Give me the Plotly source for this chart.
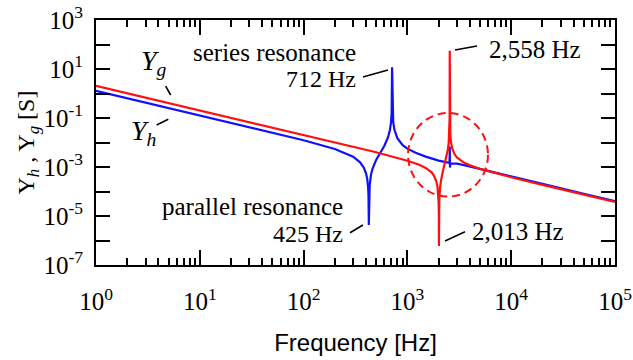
import plotly.graph_objects as go

# ---- data ----
freq_h = [1, 10, 100, 200, 300, 350, 380, 400, 410, 418, 422, 425, 428, 433, 445, 460,
          500, 550, 600, 650, 680, 695, 705, 712, 719, 730, 750, 800, 900, 1000, 1200,
          1500, 2000, 2400, 2540, 2552, 2558, 2564, 2572, 2585, 2650, 3000, 3600, 5000,
          7000, 10000, 20000, 50000, 100000]
y_h = [1.29, 0.129, 1.24e-2, 5.45e-3, 2.62e-3, 1.56e-3, 9.5e-4, 5.4e-4, 3.3e-4, 1.55e-4,
       6.6e-5, 4.3e-6, 6.7e-5, 1.8e-4, 4.6e-4, 8.2e-4, 1.95e-3, 3.9e-3, 7.4e-3, 1.6e-2,
       3.4e-2, 6.6e-2, 0.16, 11.7, 0.17, 6.7e-2, 3.3e-2, 1.5e-2, 7.8e-3, 5.6e-3, 3.8e-3,
       2.65e-3, 1.82e-3, 1.5e-3, 1.47e-3, 2.4e-3, 6.8e-3, 1.3e-3, 9.5e-4, 1.25e-3, 1.38e-3,
       1.38e-3, 1.17e-3, 8.3e-4, 5.9e-4, 4.2e-4, 2.05e-4, 8.1e-5, 4.0e-5]

freq_g = [1, 10, 100, 500, 1000, 1300, 1500, 1700, 1800, 1900, 1950, 1980, 2000, 2008,
          2013, 2018, 2030, 2060, 2100, 2200, 2300, 2400, 2450, 2500, 2530, 2545, 2552,
          2558, 2564, 2570, 2590, 2620, 2700, 2850, 3000, 3500, 4000, 5000, 7000, 10000,
          20000, 50000, 100000]
y_g = [2.04, 0.204, 2.04e-2, 3.98e-3, 1.81e-3, 1.23e-3, 9.2e-4, 6.2e-4, 4.5e-4, 2.6e-4,
       1.54e-4, 8.4e-5, 3.4e-5, 1.3e-5, 6.0e-7, 1.3e-5, 4.6e-5, 1.33e-4, 2.6e-4, 6.9e-4,
       1.41e-3, 3.0e-3, 4.9e-3, 9.9e-3, 2.15e-2, 4.7e-2, 0.104, 56, 0.108, 5.5e-2, 2.15e-2,
       1.17e-2, 5.7e-3, 3.3e-3, 2.45e-3, 1.52e-3, 1.17e-3, 8.4e-4, 5.6e-4, 3.8e-4, 1.87e-4,
       7.5e-5, 3.75e-5]

x_tick_vals = [1, 10, 100, 1000, 10000, 100000]
x_tick_text = ["10<sup>0</sup>", "10<sup>1</sup>", "10<sup>2</sup>", "10<sup>3</sup>",
               "10<sup>4</sup>", "10<sup>5</sup>"]
y_tick_vals = [1e-7, 1e-6, 1e-5, 1e-4, 1e-3, 1e-2, 1e-1, 1, 10, 100, 1000]
y_tick_text = ["10<sup>-7</sup>", "", "10<sup>-5</sup>", "", "10<sup>-3</sup>", "",
               "10<sup>-1</sup>", "", "10<sup>1</sup>", "", "10<sup>3</sup>"]

series_res_hz = 712
series_res_g_hz = 2558
parallel_res_hz = 425
parallel_res_g_hz = 2013

SERIF = "Liberation Serif, Times New Roman, serif"
SANS = "Liberation Sans, Arial, sans-serif"

fig = go.Figure()
fig.add_trace(go.Scatter(x=freq_h, y=y_h, mode="lines",
                         line=dict(color="#1010ff", width=2.2), hoverinfo="skip"))
fig.add_trace(go.Scatter(x=freq_g, y=y_g, mode="lines",
                         line=dict(color="#ff1010", width=2.2), hoverinfo="skip"))

minor_vals = [m * 10 ** d for d in range(0, 5) for m in range(2, 10)]

fig.update_xaxes(type="log", range=[0, 5], automargin=False, showline=True,
                 linecolor="black", linewidth=2,
                 mirror="ticks", ticks="inside", ticklen=15, tickwidth=2, tickcolor="black",
                 tickmode="array", tickvals=x_tick_vals, ticktext=x_tick_text,
                 tickfont=dict(family=SERIF, size=25, color="black"),
                 ticklabelstandoff=13,
                 minor=dict(ticks="inside", ticklen=7, tickwidth=1.5, tickcolor="black",
                            tickmode="array", tickvals=minor_vals, showgrid=False),
                 showgrid=False, zeroline=False,
                 title=dict(text="Frequency [Hz]", font=dict(family=SANS, size=24, color="black"),
                            standoff=20))
fig.update_yaxes(type="log", range=[-7, 3], automargin=False, showline=True,
                 linecolor="black", linewidth=2,
                 mirror="ticks", ticks="inside", ticklen=14, tickwidth=2, tickcolor="black",
                 tickmode="array", tickvals=y_tick_vals, ticktext=y_tick_text,
                 tickfont=dict(family=SERIF, size=25, color="black"),
                 ticklabelstandoff=6,
                 showgrid=False, zeroline=False,
                 title=dict(text="Y<sub><i>h</i></sub> , Y<sub><i>g</i></sub> [S]",
                            font=dict(family=SERIF, size=24, color="black"), standoff=1))

# dashed circle around the Yg resonance pair
fig.add_shape(type="circle", xref="x", yref="y", x0=1014, x1=5975, y0=6.2e-5, y1=0.16,
              line=dict(color="#ff1010", width=2, dash="8px,5px"))

# leader lines
leaders = [
    ((373, 4.71), (650, 9.1)),
    ((2874, 59.7), (4684, 86.9)),
    ((280, 2.08e-6), (373, 4.3e-6)),
    ((2302, 9.5e-7), (3589, 2.29e-6)),
    ((4.69, 2.02), (5.24, 0.869)),
    ((3.84, 0.0518), (4.97, 0.0885)),
]
for (xa, ya), (xb, yb) in leaders:
    fig.add_shape(type="line", xref="x", yref="y", x0=xa, y0=ya, x1=xb, y1=yb,
                  line=dict(color="black", width=1.6))

def ann(text, x, y, xanchor, size=25, font=SERIF):
    fig.add_annotation(text=text, xref="paper", yref="paper", x=x, y=y, xanchor=xanchor,
                       yanchor="middle", showarrow=False,
                       font=dict(family=font, size=size, color="black"))

ann("series resonance", 0.343, 0.869, "center")
ann(f"{series_res_hz} Hz", 0.505, 0.759, "right", size=24)
ann(f"{series_res_g_hz:,} Hz", 0.753, 0.878, "left")
ann("parallel resonance", 0.123, 0.237, "left")
ann(f"{parallel_res_hz} Hz", 0.480, 0.127, "right", size=24)
ann(f"{parallel_res_g_hz:,} Hz", 0.721, 0.135, "left")
ann("<i>Y</i><sub><i>g</i></sub>", 0.083, 0.826, "left", size=28)
ann("<i>Y</i><sub><i>h</i></sub>", 0.064, 0.540, "left", size=28)

fig.update_layout(width=633, height=360, margin=dict(l=96, r=18, t=20, b=95),
                  plot_bgcolor="white", paper_bgcolor="white", showlegend=False)

fig.write_html("out.html")
